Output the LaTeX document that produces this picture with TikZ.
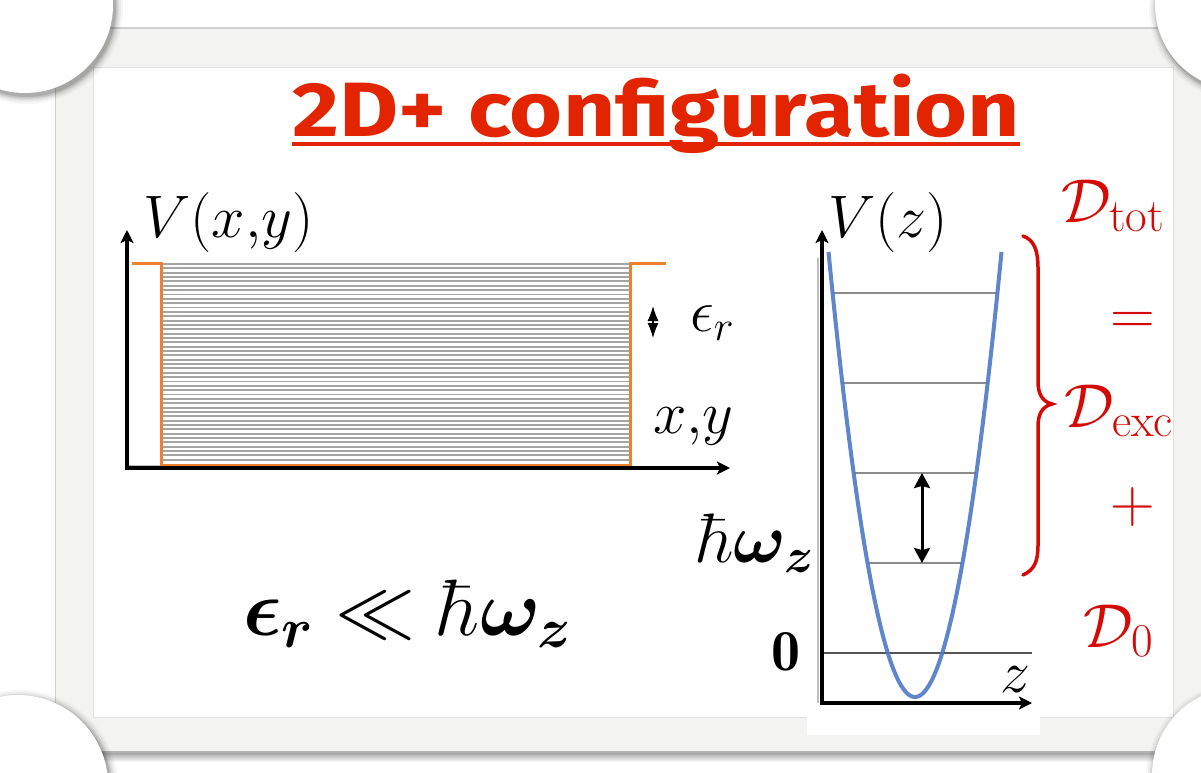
\RequirePackage{fix-cm}
\documentclass[tikz,border=0pt]{standalone}
\usepackage{amsmath,bm}
\usepackage{fontspec}
\newfontfamily\titlefont{Fira Sans}
\usetikzlibrary{arrows.meta}
\definecolor{titlered}{RGB}{226,36,0}
\definecolor{mred}{RGB}{214,10,5}
\definecolor{orng}{RGB}{238,128,50}
\definecolor{pblue}{RGB}{78,120,200}
\definecolor{band}{RGB}{243,243,241}
\definecolor{bandline}{RGB}{208,208,208}
\newcommand{\subtxt}[1]{\mbox{\fontsize{47}{50}\selectfont #1}}
\tikzset{
  axis/.style={line width=3.5pt, -{Stealth[length=13pt,width=13pt,inset=3pt]}},
  lev/.style={line width=1.8pt, draw={rgb,255:red,140;green,140;blue,140}},
  mathlbl/.style={inner sep=0pt, font=\fontsize{60}{70}\selectfont},
  redlbl/.style={inner sep=0pt, text=mred, font=\fontsize{62}{70}\selectfont},
  corner/.style={fill=white},
}
\begin{document}
\begin{tikzpicture}[x=1pt,y=-1pt]
\useasboundingbox (0,0) rectangle (1201,772);
\clip (0,0) rectangle (1201,772);
\fill[white] (0,0) rectangle (1201,772);
% frame shadow and band
\shade[top color=black!45, bottom color=white] (60,750) rectangle (1210,762);
\fill[band] (55,28) rectangle (1215,752);
\draw[bandline, line width=1.2pt] (55,28) -- (1215,28);
\draw[black!30, line width=1.5pt] (55,752) -- (1215,752);
\draw[bandline, line width=0.8pt] (55,28) -- (55,752);
\fill[white] (93,67) rectangle (1173,717);
\draw[black!12, line width=1pt] (93,67) rectangle (1173,717);
% corner disks with shadows
\foreach \cx/\cy/\r in {25/5/88, 1240/5/85, 18/785/90, 1240/775/88}{
  \foreach \k/\op in {8/0.03,6/0.05,4/0.07,2.5/0.09,1/0.12}{
    \fill[black, opacity=\op] (\cx+2,\cy+3) circle[radius=\r+\k];
  }
  \fill[corner] (\cx,\cy) circle[radius=\r];
}
% title
\node[anchor=base west, inner sep=0pt, text=titlered, xscale=1.18,
      font=\titlefont\bfseries\fontsize{77}{80}\selectfont] (title) at (292,136) {2D+ configuration};
\draw[titlered, line width=4pt] (292,144) -- (1020,144);

% ---------- left plot ----------
\foreach \i in {0,...,45}{
  \draw[line width=1.9pt, draw={rgb,255:red,165;green,165;blue,165}] (161,{264+\i*4.35}) -- (630,{264+\i*4.35});
}
\draw[black!25, line width=1.5pt] (127,466) -- (161,466);
\draw[orng, line width=3pt] (132,263) -- (161,263) -- (161,465) -- (630,465) -- (630,263) -- (666,263);
\draw[axis] (127,470) -- (127,230);
\draw[axis] (125,468) -- (730,468);
\coordinate (ea) at (653,306);
\coordinate (eb) at (653,338);
\draw[line width=1.2pt, {Latex[length=15pt,width=11pt]}-{Latex[length=15pt,width=11pt]}] (ea) -- (eb);
\node[mathlbl, anchor=base west] (Vxy) at (143,237) {$V(x{,}y)$};
\node[mathlbl, anchor=base west] (er) at (690,331) {$\epsilon_r$};
\node[mathlbl, anchor=base west] (xy) at (653,433) {$x{,}y$};
\node[inner sep=0pt, anchor=base west, font=\fontsize{80}{90}\selectfont] (cond) at (243,635)
  {$\bm{\epsilon_r}\ll\hbar\bm{\omega_z}$};

% ---------- right plot ----------
\fill[white] (807,703) rectangle (1040,735);
\foreach \yy in {293,383,473,563}{
  \pgfmathsetmacro\w{4.1*sqrt(697-\yy)}
  \draw[lev] ({915-\w},\yy) -- ({915+\w},\yy);
}
\draw[line width=2pt, draw={rgb,255:red,85;green,85;blue,85}] (822,653) -- (1032,653);
\draw[pblue, line width=4pt, opacity=0.9] plot[domain=-86.5:86.5, samples=90, smooth] ({915+\x},{697-(\x/4.1)^2});
\draw[black!25, line width=1.2pt] (818,258) -- (818,703);
\draw[axis] (822,705) -- (822,230);
\draw[axis] (820,703) -- (1032,703);
\coordinate (ha) at (922,473);
\coordinate (hb) at (922,563);
\draw[line width=3pt, {Stealth[length=15pt,width=16pt,inset=2pt]}-{Stealth[length=15pt,width=16pt,inset=2pt]}] (ha) -- (hb);
\node[mathlbl, anchor=base west] (Vz) at (828,237) {$V(z)$};
\node[mathlbl, anchor=base west] (zl) at (1000,692) {$z$};
\node[inner sep=0pt, anchor=base west, font=\fontsize{70}{80}\selectfont] (hw) at (697,562) {$\hbar\bm{\omega_z}$};
\node[inner sep=0pt, anchor=base west, font=\fontsize{58}{70}\selectfont] (zero) at (771,670) {$\mathbf{0}$};

% brace
\draw[mred, line width=3.5pt, line cap=round]
  (1023,236) .. controls (1034,240) and (1038,250) .. (1038,268) -- (1038,382)
  .. controls (1038,396) and (1044,402) .. (1052,404)
  .. controls (1044,406) and (1038,412) .. (1038,426) -- (1038,545)
  .. controls (1038,562) and (1034,570) .. (1023,575);
\node[redlbl, anchor=base west] (Dtot) at (1061,222) {$\mathcal{D}_{\subtxt{tot}}$};
\node[redlbl] (eq) at (1133,323) {$=$};
\node[redlbl, anchor=base west] (Dexc) at (1064,427) {$\mathcal{D}_{\subtxt{exc}}$};
\node[redlbl] (pl) at (1133,507) {$+$};
\node[redlbl, anchor=base west] (D0) at (1083,647) {$\mathcal{D}_{\subtxt{0}}$};
\end{tikzpicture}
\end{document}
